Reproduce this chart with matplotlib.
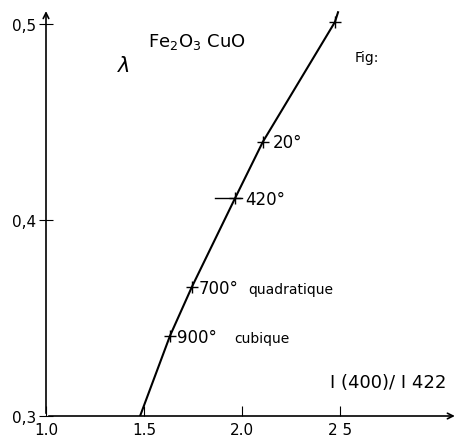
import numpy as np
from matplotlib import pyplot as plt

# curve
curve_x = [1.48, 1.633, 1.745, 1.964, 2.107, 2.474, 2.49]
curve_y = [0.300, 0.341, 0.366, 0.411, 0.440, 0.501, 0.506]

# measured points (crosses)
pt_x = [1.633, 1.745, 1.964, 2.107, 2.474]
pt_y = [0.341, 0.366, 0.411, 0.440, 0.501]

xticks = [1.0, 1.5, 2.0, 2.5]
xtick_labels = ['1.0', '1.5', '2.0', '2 5']
yticks = [0.3, 0.4, 0.5]
ytick_labels = ['0,3', '0,4', '0,5']

fig = plt.figure(figsize=(4.7, 4.39), dpi=100)
ax = fig.add_axes([46/470, 22/439, 424/470, 417/439])
ax.set_xlim(1.0, 1.0 + 424/196)
ax.set_ylim(0.3, 0.3 + 417/1960)
for s in ax.spines.values():
    s.set_visible(False)

# axes drawn as arrows
ax.annotate('', xy=(3.10, 0.3), xytext=(1.0, 0.3),
            arrowprops=dict(arrowstyle='->', color='black', lw=1.2))
ax.annotate('', xy=(1.0, 0.508), xytext=(1.0, 0.3),
            arrowprops=dict(arrowstyle='->', color='black', lw=1.2))

ax.plot(curve_x, curve_y, color='black', lw=1.5)
ax.plot(pt_x, pt_y, linestyle='none', marker='+', color='black', ms=9, mew=1)
# longer horizontal stroke at 420
ax.plot([1.86, 2.0], [0.411, 0.411], color='black', lw=1)

ax.set_xticks(xticks)
ax.set_xticklabels(xtick_labels, fontsize=11)
ax.set_yticks(yticks)
ax.set_yticklabels(ytick_labels, fontsize=11)
ax.tick_params(axis='x', direction='in', length=7, pad=4)
ax.tick_params(axis='y', direction='inout', length=10, pad=2)

ax.text(1.52, 0.489, 'Fe$_2$O$_3$ CuO', fontsize=13)
ax.text(1.36, 0.476, r'$\lambda$', fontsize=15)
ax.text(2.575, 0.481, 'Fig:', fontsize=10)
ax.text(2.155, 0.437, '20°', fontsize=12)
ax.text(2.015, 0.408, '420°', fontsize=12)
ax.text(1.78, 0.363, '700°', fontsize=12)
ax.text(2.03, 0.363, 'quadratique', fontsize=10)
ax.text(1.67, 0.338, '900°', fontsize=12)
ax.text(1.96, 0.338, 'cubique', fontsize=10)
ax.text(2.45, 0.315, 'I (400)/ I 422', fontsize=13)

fig.savefig('out.png', dpi=100)
